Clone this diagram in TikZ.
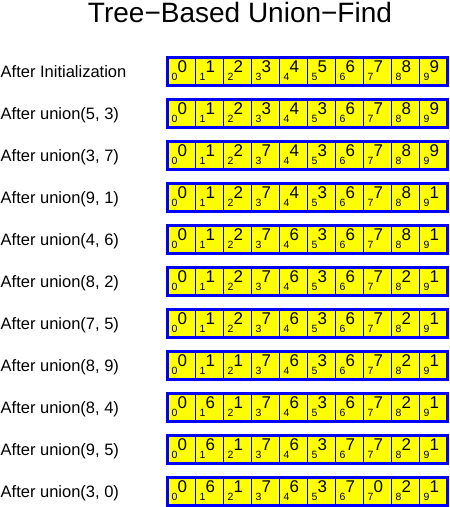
\documentclass[tikz,border=0pt]{standalone}
\usepackage{fontspec}
\setmainfont{Liberation Sans}
\definecolor{cellfill}{RGB}{255,255,0}
\definecolor{cellline}{RGB}{0,0,255}

\begin{document}
\begin{tikzpicture}[x=1pt,y=-1pt,
    cell/.style={draw=cellline,line width=1pt,fill=cellfill,anchor=north west,
      minimum width=28pt,minimum height=28pt,inner sep=0pt,outer sep=0pt},
    val/.style={anchor=base west,inner sep=0pt,font=\fontsize{17}{17}\selectfont},
    idx/.style={anchor=base west,inner sep=0pt,font=\fontsize{10.5}{10.5}\selectfont},
    rowlabel/.style={anchor=base west,inner sep=0pt,font=\fontsize{16.5}{16.5}\selectfont}]
      \useasboundingbox (0,0) rectangle (450,507);
      \node[anchor=base,inner sep=0pt,font=\fontsize{28}{28}\selectfont] (title) at (240,22.5) {Tree−Based Union−Find};
      \foreach \lab/\vals [count=\r from 0] in {
          {After Initialization}/{0,1,2,3,4,5,6,7,8,9},
          {After union(5, 3)}/{0,1,2,3,4,3,6,7,8,9},
          {After union(3, 7)}/{0,1,2,7,4,3,6,7,8,9},
          {After union(9, 1)}/{0,1,2,7,4,3,6,7,8,1},
          {After union(4, 6)}/{0,1,2,7,6,3,6,7,8,1},
          {After union(8, 2)}/{0,1,2,7,6,3,6,7,2,1},
          {After union(7, 5)}/{0,1,2,7,6,3,6,7,2,1},
          {After union(8, 9)}/{0,1,1,7,6,3,6,7,2,1},
          {After union(8, 4)}/{0,6,1,7,6,3,6,7,2,1},
          {After union(9, 5)}/{0,6,1,7,6,3,7,7,2,1},
          {After union(3, 0)}/{0,6,1,7,6,3,7,0,2,1}} {
        \node[rowlabel] (lab\r) at (0.5,77+42*\r) {\lab};
        \foreach \v [count=\i from 0] in \vals {
          \node[cell] (c\r-\i) at (167+28*\i,57+42*\r) {};
          \node[idx] (i\r-\i) at ([xshift=4.3pt,yshift=4.5pt]c\r-\i.south west) {\i};
          \node[val] (v\r-\i) at ([xshift=10.5pt,yshift=-15.5pt]c\r-\i.north west) {\v};
        }
        \draw[cellline,line width=3pt] (c\r-0.north west) rectangle (c\r-9.south east);
      }
\end{tikzpicture}
\end{document}
